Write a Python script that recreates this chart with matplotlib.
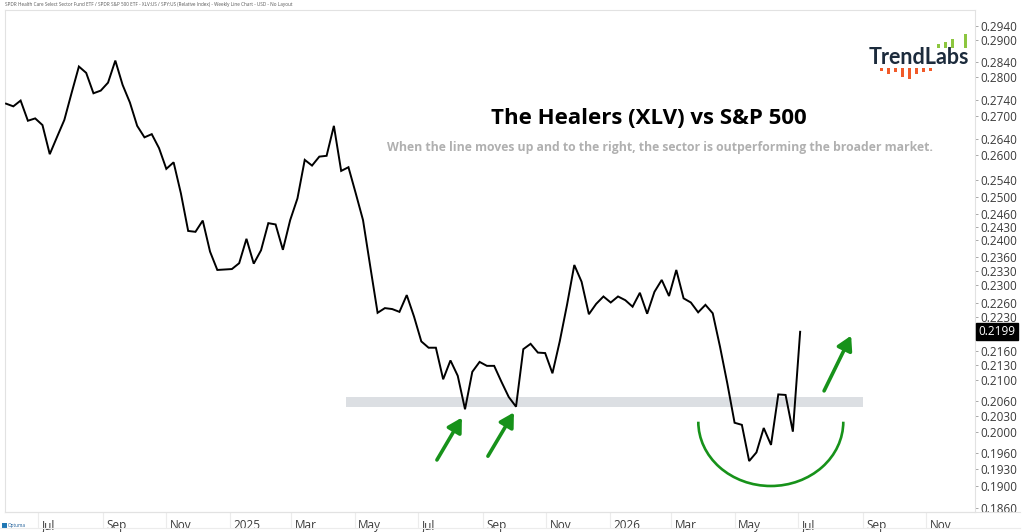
import matplotlib
matplotlib.use("Agg")
import matplotlib.pyplot as plt
from matplotlib.patches import Arc, Rectangle
from matplotlib.ticker import FixedLocator, FixedFormatter, NullLocator
from matplotlib.lines import Line2D
import pandas as pd

# ---------------- data ----------------
start_date = "2024-05-31"
ratio_values = [
    0.2731, 0.2724, 0.2739, 0.2687, 0.2693, 0.2676, 0.2603, 0.2646, 0.2689, 0.2759,
    0.2829, 0.2812, 0.2758, 0.2765, 0.2786, 0.2845, 0.2780, 0.2734, 0.2674, 0.2645,
    0.2653, 0.2618, 0.2567, 0.2583, 0.2508, 0.2420, 0.2418, 0.2444, 0.2373, 0.2332,
    0.2333, 0.2334, 0.2347, 0.2402, 0.2346, 0.2376, 0.2438, 0.2435, 0.2377, 0.2445,
    0.2496, 0.2589, 0.2575, 0.2597, 0.2599, 0.2674, 0.2562, 0.2571, 0.2508, 0.2445,
    0.2339, 0.2239, 0.2249, 0.2247, 0.2241, 0.2277, 0.2231, 0.2179, 0.2166, 0.2166,
    0.2102, 0.2140, 0.2109, 0.2043, 0.2117, 0.2137, 0.2129, 0.2129, 0.2097, 0.2067,
    0.2048, 0.2163, 0.2174, 0.2156, 0.2155, 0.2114, 0.2179, 0.2256, 0.2343, 0.2306,
    0.2236, 0.2258, 0.2274, 0.2261, 0.2274, 0.2266, 0.2252, 0.2282, 0.2237, 0.2284,
    0.2310, 0.2275, 0.2332, 0.2270, 0.2261, 0.2240, 0.2256, 0.2238, 0.2168, 0.2094,
    0.2017, 0.2013, 0.1945, 0.1961, 0.2007, 0.1975, 0.2072, 0.2071, 0.2000, 0.2199,
]
dates = pd.date_range(start_date, periods=len(ratio_values), freq="7D")
last_value = 0.2199

y_ticks = [0.2940, 0.2900, 0.2840, 0.2800, 0.2740, 0.2700, 0.2640, 0.2600,
           0.2540, 0.2500, 0.2460, 0.2430, 0.2400, 0.2360, 0.2330, 0.2300,
           0.2260, 0.2230, 0.2160, 0.2130, 0.2100, 0.2060, 0.2030, 0.2000,
           0.1960, 0.1930, 0.1900, 0.1860]
y_tick_labels = [f"{v:.4f}" for v in y_ticks]

x_tick_dates = ["2024-07-01", "2024-09-01", "2024-11-01", "2025-01-01", "2025-03-01",
                "2025-05-01", "2025-07-01", "2025-09-01", "2025-11-01", "2026-01-01",
                "2026-03-01", "2026-05-01", "2026-07-01", "2026-09-01", "2026-11-01"]
x_tick_labels = ["Jul", "Sep", "Nov", "2025", "Mar", "May", "Jul", "Sep", "Nov",
                 "2026", "Mar", "May", "Jul", "Sep", "Nov"]

x_range = ["2024-05-30", "2026-12-18"]
y_range = [0.18531, 0.29850]

# support band (annotation)
band_dates = ["2025-04-23", "2026-09-01"]
band_values = [0.2047, 0.2067]

# arrows (annotation): tail -> head
arrows = [
    (("2025-07-19", 0.1947), ("2025-08-12", 0.2027)),
    (("2025-09-06", 0.1954), ("2025-10-01", 0.2037)),
    (("2026-07-26", 0.2079), ("2026-08-21", 0.2191)),
]

title = "The Healers (XLV) vs S&P 500"
subtitle = "When the line moves up and to the right, the sector is outperforming the broader market."
header = ("SPDR Health Care Select Sector Fund ETF / SPDR S&P 500 ETF - XLV:US / SPY:US "
          "(Relative Index) - Weekly Line Chart - USD - No Layout")

# ---------------- figure ----------------
plt.rcParams["font.family"] = ["Open Sans", "DejaVu Sans"]
W, H = 1024, 532
fig = plt.figure(figsize=(W / 100, H / 100), dpi=100)
fig.patch.set_facecolor("white")

ax_l, ax_r, ax_t, ax_b = 5, 975, 10, 512
ax = fig.add_axes([ax_l / W, 1 - ax_b / H, (ax_r - ax_l) / W, (ax_b - ax_t) / H])
ax.set_yscale("log")
ax.set_xlim(pd.Timestamp(x_range[0]), pd.Timestamp(x_range[1]))
ax.set_ylim(*y_range)

frame_col = "#e2e2e2"
for s in ax.spines.values():
    s.set_color(frame_col)
    s.set_linewidth(0.8)

green = "#17921a"

# band
ax.fill_between([pd.Timestamp(d) for d in band_dates], band_values[0], band_values[1],
                color="#dcdfe3", lw=0, zorder=1)

# line
ax.plot(dates, ratio_values, color="black", lw=1.4, zorder=3, solid_joinstyle="miter")

# arrows
for (t_d, t_v), (h_d, h_v) in arrows:
    ax.annotate("", xy=(pd.Timestamp(h_d), h_v), xytext=(pd.Timestamp(t_d), t_v),
                arrowprops=dict(arrowstyle="-|>,head_length=0.7,head_width=0.4",
                                lw=2.6, color=green, shrinkA=0, shrinkB=0,
                                mutation_scale=12),
                zorder=4)

# arc (annotation), in axes fraction
arc = Arc(((770.8 - ax_l) / (ax_r - ax_l), (ax_b - 421.7) / (ax_b - ax_t)),
          width=2 * 72.5 / (ax_r - ax_l), height=2 * 64.3 / (ax_b - ax_t),
          theta1=180, theta2=360, transform=ax.transAxes, color=green, lw=1.9, zorder=4)
ax.add_patch(arc)

# y axis on right
ax.yaxis.tick_right()
ax.yaxis.set_major_locator(FixedLocator(y_ticks))
ax.yaxis.set_major_formatter(FixedFormatter(y_tick_labels))
ax.yaxis.set_minor_locator(NullLocator())
ax.tick_params(axis="y", which="major", direction="out", length=2.5, width=0.6,
               color="#999999", labelsize=8.5, labelcolor="#3a3a3a", pad=1.2)

# last value tag
ax.annotate(f"{last_value:.4f}", xy=(1.0, last_value), xycoords=("axes fraction", "data"),
            xytext=(2.5, 0), textcoords="offset points", va="center", ha="left",
            fontsize=8.5, color="white",
            bbox=dict(boxstyle="square,pad=0.18", fc="black", ec="black"), zorder=6)

# x axis: custom labels
ax.set_xticks([pd.Timestamp(d) for d in x_tick_dates])
ax.set_xticklabels([])
ax.tick_params(axis="x", which="major", direction="out", length=11.5, width=0.8,
               color="#ececec")
ax.xaxis.set_minor_locator(NullLocator())
for d, lab in zip(x_tick_dates, x_tick_labels):
    ax.annotate(lab, xy=(pd.Timestamp(d), 0), xycoords=("data", "axes fraction"),
                xytext=(2.5, -9.5), textcoords="offset points", ha="left", va="center",
                fontsize=8.5, color="#3a3a3a", annotation_clip=False)

# lines framing the x label strip
fig.add_artist(Line2D([ax_l / W, 1020 / W], [1 - 512 / H, 1 - 512 / H], color=frame_col, lw=0.8))
fig.add_artist(Line2D([0.0, 1020 / W], [1 - 528 / H, 1 - 528 / H], color="#ececec", lw=0.8))

# titles
fig.text(649 / W, 1 - 118 / H, title, ha="center", va="center", fontsize=16,
         fontweight="bold", color="black")
fig.text(660 / W, 1 - 148 / H, subtitle, ha="center", va="center", fontsize=8.8,
         fontweight="bold", color="#b0b0b0")
fig.text(5 / W, 1 - 4.5 / H, header, ha="left", va="center", fontsize=3.3, color="#555555")

# TrendLabs logo
fig.text(919 / W, 1 - 58 / H, "TrendLabs", ha="center", va="center", fontsize=15.5,
         fontweight="bold", color="#1c2b3c", family=["Lato", "DejaVu Sans"])
logo_green = [(937, 44, 3.5), (944, 41.5, 6), (951, 39, 8.5), (964, 34, 13.5)]
for x, top, h in logo_green:
    fig.add_artist(Rectangle((x / W, 1 - (top + h) / H), 3.4 / W, h / H, color="#8cc63f", lw=0))
logo_orange = [(880, 3), (887, 6), (894, 4), (901, 9), (908, 11), (915, 6), (922, 4), (929, 3)]
for x, h in logo_orange:
    fig.add_artist(Rectangle((x / W, 1 - (68 + h) / H), 3 / W, h / H, color="#f15a29", lw=0))

# Optuma mark
fig.add_artist(Rectangle((2 / W, 1 - 529 / H), 5 / W, 6 / H, color="#1f77b4", lw=0))
fig.text(8 / W, 1 - 526 / H, "Optuma", ha="left", va="center", fontsize=3.4, color="#1f5f99")

fig.savefig("out.png", dpi=100, facecolor="white")
